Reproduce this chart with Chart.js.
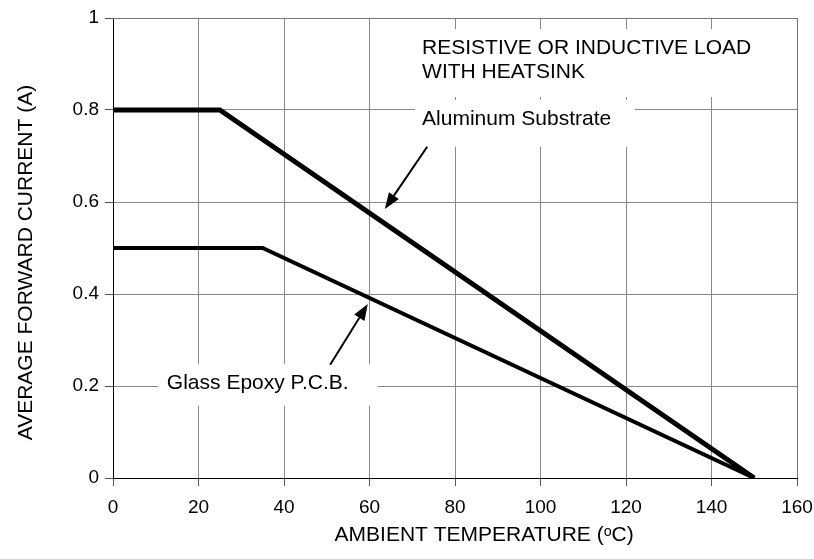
<!DOCTYPE html>
<html>
<head>
<meta charset="UTF-8">
<title>Derating curve</title>
<script src="https://cdn.jsdelivr.net/npm/chart.js@4/dist/chart.umd.min.js"></script>
<style>
  html, body { margin: 0; padding: 0; background: #fff; }
  #wrap { width: 814px; height: 559px; }
</style>
</head>
<body>
<div id="wrap"><canvas id="c"></canvas></div>
<script>
// --- data ---
const aluminumTemp = [0, 25, 150];
const aluminumCurrent = [0.8, 0.8, 0];
const glassTemp = [0, 35, 150];
const glassCurrent = [0.5, 0.5, 0];

const xTicks = [0, 20, 40, 60, 80, 100, 120, 140, 160];
const yTicks = [0, 0.2, 0.4, 0.6, 0.8, 1];

const FONT = "'Liberation Sans', Arial, sans-serif";

function toPoints(xs, ys) {
  return xs.map((x, i) => ({ x: x, y: ys[i] }));
}

// labels / arrows, placed in data units
const notes = [
  { lines: ['RESISTIVE OR INDUCTIVE LOAD', 'WITH HEATSINK'], x: 72.3, y: 0.935, dy: 0.053,
    box: [70.6, 158.4, 0.976, 0.828] },
  { lines: ['Aluminum Substrate'], x: 72.3, y: 0.780, dy: 0, box: [70.6, 122.1, 0.822, 0.720] },
  { lines: ['Glass Epoxy P.C.B.'], x: 12.6, y: 0.205, dy: 0, box: [10.5, 62, 0.248, 0.157] }
];
const arrows = [
  { from: [73.5, 0.720], to: [63.6, 0.585] },
  { from: [50.8, 0.246], to: [59.6, 0.378] }
];

const annotations = {
  id: 'annotations',
  beforeDatasetsDraw(chart) {
    const { ctx, chartArea: a } = chart;
    // top and right frame
    ctx.save();
    ctx.strokeStyle = '#777';
    ctx.lineWidth = 1;
    ctx.beginPath();
    ctx.moveTo(a.left, a.top + 0.5);
    ctx.lineTo(a.right + 0.5, a.top + 0.5);
    ctx.lineTo(a.right + 0.5, a.bottom);
    ctx.stroke();
    // white boxes behind labels
    const xs = chart.scales.x, ys = chart.scales.y;
    ctx.fillStyle = '#fff';
    notes.forEach(n => {
      const l = xs.getPixelForValue(n.box[0]), r = xs.getPixelForValue(n.box[1]);
      const t = ys.getPixelForValue(n.box[2]), b = ys.getPixelForValue(n.box[3]);
      ctx.fillRect(l, t, r - l, b - t);
    });
    ctx.restore();
  },
  afterDatasetsDraw(chart) {
    const { ctx } = chart;
    const xs = chart.scales.x, ys = chart.scales.y;
    ctx.save();
    ctx.fillStyle = '#000';
    ctx.font = '21px ' + FONT;
    ctx.textBaseline = 'middle';
    ctx.textAlign = 'left';
    notes.forEach(n => {
      n.lines.forEach((s, i) => {
        ctx.fillText(s, xs.getPixelForValue(n.x), ys.getPixelForValue(n.y - i * n.dy));
      });
    });
    ctx.strokeStyle = '#000';
    ctx.lineWidth = 2;
    arrows.forEach(ar => {
      const x1 = xs.getPixelForValue(ar.from[0]), y1 = ys.getPixelForValue(ar.from[1]);
      const x2 = xs.getPixelForValue(ar.to[0]), y2 = ys.getPixelForValue(ar.to[1]);
      const ang = Math.atan2(y2 - y1, x2 - x1);
      const len = 16, half = 6;
      const bx = x2 - len * Math.cos(ang), by = y2 - len * Math.sin(ang);
      ctx.beginPath();
      ctx.moveTo(x1, y1);
      ctx.lineTo(bx, by);
      ctx.stroke();
      ctx.beginPath();
      ctx.moveTo(x2, y2);
      ctx.lineTo(bx + half * Math.sin(ang), by - half * Math.cos(ang));
      ctx.lineTo(bx - half * Math.sin(ang), by + half * Math.cos(ang));
      ctx.closePath();
      ctx.fill();
    });
    ctx.restore();
  }
};

new Chart(document.getElementById('c'), {
  type: 'scatter',
  data: {
    datasets: [
      {
        label: 'Aluminum Substrate',
        data: toPoints(aluminumTemp, aluminumCurrent),
        showLine: true,
        borderColor: '#000',
        borderWidth: 5,
        borderJoinStyle: 'miter',
        pointRadius: 0,
        tension: 0
      },
      {
        label: 'Glass Epoxy P.C.B.',
        data: toPoints(glassTemp, glassCurrent),
        showLine: true,
        borderColor: '#000',
        borderWidth: 4,
        borderJoinStyle: 'miter',
        pointRadius: 0,
        tension: 0
      }
    ]
  },
  options: {
    responsive: true,
    maintainAspectRatio: false,
    animation: false,
    layout: { padding: { top: 18, right: 17, left: 0, bottom: 0 } },
    plugins: {
      legend: { display: false },
      tooltip: { enabled: false }
    },
    scales: {
      x: {
        type: 'linear',
        min: 0,
        max: 160,
        afterBuildTicks: s => { s.ticks = xTicks.map(v => ({ value: v })); },
        afterFit: s => { s.height = 81; s.paddingLeft = 0; s.paddingRight = 0; },
        grid: { color: '#888', lineWidth: 1, tickLength: 8, tickColor: '#555' },
        border: { color: '#000', width: 1 },
        ticks: { color: '#000', font: { family: FONT, size: 19 }, padding: 10,
                 callback: v => String(v) },
        title: {
          display: true,
          // leading spaces nudge the title right, as in the original
          text: '          AMBIENT TEMPERATURE (ᵒC)',
          color: '#000',
          font: { family: FONT, size: 21 },
          padding: { top: 0, bottom: 11 }
        }
      },
      y: {
        type: 'linear',
        min: 0,
        max: 1,
        afterBuildTicks: s => { s.ticks = yTicks.map(v => ({ value: v })); },
        afterFit: s => { s.width = 113; },
        grid: { color: '#888', lineWidth: 1, tickLength: 8, tickColor: '#555' },
        border: { color: '#000', width: 1 },
        ticks: { color: '#000', font: { family: FONT, size: 19 }, padding: 6,
                 callback: v => String(v) },
        title: {
          display: true,
          text: 'AVERAGE FORWARD CURRENT (A)     ',
          color: '#000',
          font: { family: FONT, size: 21 },
          padding: { top: 14, bottom: 0 }
        }
      }
    }
  },
  plugins: [annotations]
});
</script>
</body>
</html>
